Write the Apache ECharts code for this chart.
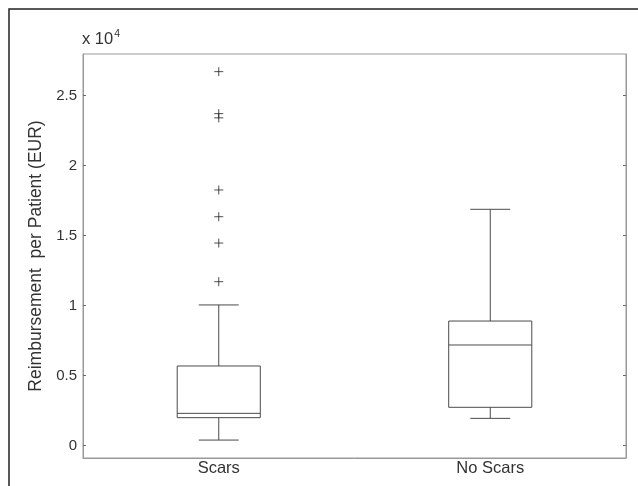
<!DOCTYPE html>
<html><head><meta charset="utf-8">
<script src="https://cdn.jsdelivr.net/npm/echarts@6/dist/echarts.min.js"></script>
<style>html,body{margin:0;padding:0;background:#fff}#c{width:638px;height:486px}</style>
</head><body><div id="c"></div>
<script>
const categories = ['Scars', 'No Scars'];
// [lower whisker, Q1, median, Q3, upper whisker]
const scarsStats = [390, 1990, 2300, 5680, 10040];
const noScarsStats = [1940, 2730, 7180, 8890, 16870];
const scarsOutliers = [26700, 23700, 23400, 18250, 16340, 14460, 11700];
const yTicks = [0, 5000, 10000, 15000, 20000, 25000];
const yTickLabels = ['0', '0.5', '1', '1.5', '2', '2.5'];
const yMin = -890, yMax = 27960;

const lineCol = '#4a4a4a';
const boxData = [[0].concat(scarsStats), [1].concat(noScarsStats)];
const outlierData = scarsOutliers.map(v => [0, v]);

const chart = echarts.init(document.getElementById('c'));
function renderBox(params, api) {
  const x = api.value(0);
  const lo = api.coord([x, api.value(1)]);
  const q1 = api.coord([x, api.value(2)]);
  const md = api.coord([x, api.value(3)]);
  const q3 = api.coord([x, api.value(4)]);
  const hi = api.coord([x, api.value(5)]);
  const band = api.size([1, 0])[0];
  const bw = band * 0.306, cw = band * 0.147;
  const cx = lo[0];
  const st = {stroke: lineCol, lineWidth: 1, fill: null};
  const L = (x1, y1, x2, y2) => ({type: 'line', shape: {x1, y1, x2, y2}, style: st});
  return {type: 'group', children: [
    {type: 'rect', shape: {x: cx - bw / 2, y: q3[1], width: bw, height: q1[1] - q3[1]}, style: st},
    L(cx - bw / 2, md[1], cx + bw / 2, md[1]),
    L(cx, q3[1], cx, hi[1]),
    L(cx, q1[1], cx, lo[1]),
    L(cx - cw / 2, hi[1], cx + cw / 2, hi[1]),
    L(cx - cw / 2, lo[1], cx + cw / 2, lo[1])
  ]};
}
const font = 'Liberation Sans';
chart.setOption({
  animation: false,
  backgroundColor: '#fff',
  title: {
    text: 'x 10{s|4}', left: 82, top: 29, padding: 0,
    textStyle: {color: '#333', fontFamily: font, fontSize: 16.5, fontWeight: 'normal',
      rich: {s: {fontSize: 10.5, verticalAlign: 'top', padding: [0, 0, 10, 1], color: '#333', fontFamily: font}}}
  },
  graphic: [{type: 'rect', shape: {x: 9, y: 9, width: 700, height: 600},
    style: {fill: null, stroke: '#222', lineWidth: 1.5}, silent: true}],
  grid: {left: 83, right: 12, top: 54, bottom: 28, show: true, borderColor: '#999', borderWidth: 1},
  xAxis: {
    type: 'category', data: categories, boundaryGap: true,
    axisLine: {show: true, onZero: false, lineStyle: {color: '#999'}},
    axisTick: {show: false},
    axisLabel: {margin: 2, color: '#333', fontFamily: font, fontSize: 16.5}
  },
  yAxis: [{
    type: 'value', min: yMin, max: yMax, position: 'left',
    name: 'Reimbursement  per Patient (EUR)', nameLocation: 'middle', nameGap: 35,
    nameTextStyle: {color: '#333', fontFamily: font, fontSize: 17.5},
    axisLine: {show: true, onZero: false, lineStyle: {color: '#999'}},
    splitLine: {show: false},
    axisTick: {show: true, inside: true, length: 3, customValues: yTicks, lineStyle: {color: '#666'}},
    axisLabel: {margin: 6, customValues: yTicks, color: '#333', fontFamily: font, fontSize: 15,
      formatter: v => yTickLabels[yTicks.indexOf(v)] || ''}
  }, {
    type: 'value', min: yMin, max: yMax, position: 'right',
    axisLine: {show: true, onZero: false, lineStyle: {color: '#999'}},
    splitLine: {show: false},
    axisTick: {show: true, inside: true, length: 3, customValues: yTicks, lineStyle: {color: '#666'}},
    axisLabel: {show: false}
  }],
  series: [{
    type: 'custom', renderItem: renderBox, data: boxData,
    encode: {x: 0, y: [1, 2, 3, 4, 5]}
  }, {
    type: 'scatter', data: outlierData,
    symbol: 'path://M0,5L10,5M5,0L5,10', symbolSize: 9,
    itemStyle: {color: 'none', borderColor: '#222', borderWidth: 1}
  }]
});
</script></body></html>
